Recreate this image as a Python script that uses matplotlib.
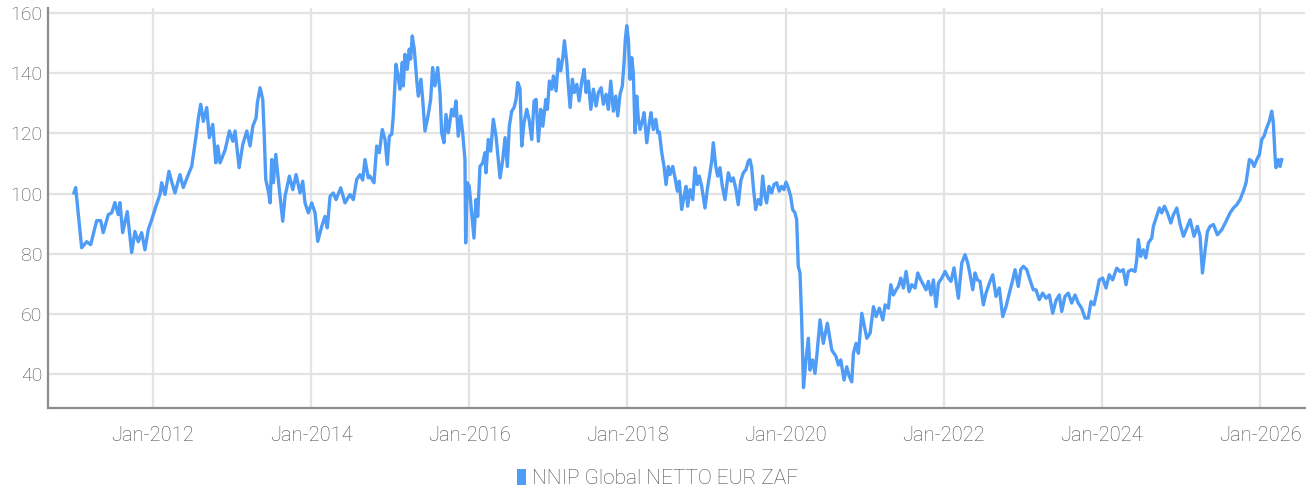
import matplotlib
matplotlib.use("Agg")
import matplotlib.pyplot as plt
import matplotlib.dates as mdates
from matplotlib.patches import Patch
from datetime import datetime

plt.rcParams['font.family'] = ['Roboto', 'DejaVu Sans']
plt.rcParams['font.weight'] = 'light'

series_name = 'NNIP Global NETTO EUR ZAF'

# time as decimal years
t_year = [
    2011.001, 2011.022, 2011.098, 2011.162, 2011.212, 2011.288, 2011.339, 2011.371, 2011.435, 2011.478,
    2011.519, 2011.561, 2011.583, 2011.617, 2011.675, 2011.731, 2011.772, 2011.814, 2011.857, 2011.899,
    2011.941, 2011.984, 2012.038, 2012.089, 2012.110, 2012.152, 2012.202, 2012.236, 2012.278, 2012.341,
    2012.383, 2012.446, 2012.489, 2012.544, 2012.573, 2012.603, 2012.636, 2012.679, 2012.712, 2012.755,
    2012.793, 2012.818, 2012.847, 2012.911, 2012.965, 2013.008, 2013.037, 2013.088, 2013.134, 2013.185,
    2013.227, 2013.261, 2013.303, 2013.319, 2013.353, 2013.387, 2013.404, 2013.425, 2013.458, 2013.480,
    2013.501, 2013.521, 2013.552, 2013.597, 2013.640, 2013.669, 2013.724, 2013.767, 2013.809, 2013.859,
    2013.893, 2013.922, 2013.964, 2014.007, 2014.049, 2014.083, 2014.134, 2014.175, 2014.204, 2014.239,
    2014.280, 2014.314, 2014.374, 2014.428, 2014.491, 2014.533, 2014.576, 2014.618, 2014.652, 2014.681,
    2014.723, 2014.744, 2014.795, 2014.829, 2014.862, 2014.900, 2014.934, 2014.963, 2014.989, 2015.019,
    2015.039, 2015.073, 2015.102, 2015.124, 2015.153, 2015.166, 2015.187, 2015.216, 2015.241, 2015.259,
    2015.279, 2015.305, 2015.335, 2015.355, 2015.389, 2015.411, 2015.440, 2015.482, 2015.512, 2015.537,
    2015.566, 2015.601, 2015.630, 2015.651, 2015.680, 2015.706, 2015.735, 2015.778, 2015.807, 2015.832,
    2015.861, 2015.892, 2015.917, 2015.946, 2015.955, 2015.975, 2016.000, 2016.031, 2016.060, 2016.085,
    2016.107, 2016.136, 2016.170, 2016.199, 2016.211, 2016.241, 2016.271, 2016.304, 2016.338, 2016.367,
    2016.389, 2016.423, 2016.452, 2016.481, 2016.506, 2016.536, 2016.566, 2016.591, 2016.612, 2016.641,
    2016.663, 2016.692, 2016.726, 2016.755, 2016.789, 2016.819, 2016.844, 2016.873, 2016.903, 2016.929,
    2016.967, 2016.987, 2017.012, 2017.042, 2017.063, 2017.097, 2017.126, 2017.156, 2017.181, 2017.202,
    2017.232, 2017.252, 2017.274, 2017.303, 2017.328, 2017.359, 2017.388, 2017.422, 2017.451, 2017.476,
    2017.505, 2017.536, 2017.569, 2017.603, 2017.632, 2017.666, 2017.695, 2017.729, 2017.758, 2017.789,
    2017.821, 2017.852, 2017.877, 2017.906, 2017.935, 2017.957, 2017.973, 2017.991, 2018.011, 2018.033,
    2018.054, 2018.074, 2018.096, 2018.117, 2018.138, 2018.159, 2018.193, 2018.210, 2018.244, 2018.277,
    2018.298, 2018.327, 2018.358, 2018.383, 2018.403, 2018.434, 2018.463, 2018.488, 2018.517, 2018.538,
    2018.573, 2018.602, 2018.631, 2018.656, 2018.686, 2018.716, 2018.741, 2018.762, 2018.791, 2018.826,
    2018.855, 2018.884, 2018.909, 2018.939, 2018.981, 2019.010, 2019.044, 2019.066, 2019.086, 2019.117,
    2019.142, 2019.171, 2019.200, 2019.234, 2019.276, 2019.310, 2019.339, 2019.369, 2019.402, 2019.433,
    2019.466, 2019.500, 2019.529, 2019.550, 2019.572, 2019.592, 2019.622, 2019.655, 2019.686, 2019.711,
    2019.740, 2019.761, 2019.791, 2019.825, 2019.854, 2019.888, 2019.921, 2019.951, 2019.980, 2020.006,
    2020.035, 2020.065, 2020.090, 2020.119, 2020.141, 2020.161, 2020.183, 2020.204, 2020.217, 2020.227,
    2020.258, 2020.288, 2020.309, 2020.343, 2020.372, 2020.394, 2020.436, 2020.477, 2020.528, 2020.584,
    2020.638, 2020.667, 2020.697, 2020.739, 2020.773, 2020.806, 2020.836, 2020.857, 2020.891, 2020.920,
    2020.963, 2020.996, 2021.026, 2021.068, 2021.110, 2021.144, 2021.185, 2021.229, 2021.258, 2021.299,
    2021.330, 2021.363, 2021.397, 2021.426, 2021.456, 2021.489, 2021.523, 2021.561, 2021.595, 2021.637,
    2021.671, 2021.709, 2021.742, 2021.776, 2021.805, 2021.839, 2021.869, 2021.903, 2021.932, 2021.975,
    2022.017, 2022.058, 2022.092, 2022.130, 2022.164, 2022.185, 2022.228, 2022.270, 2022.304, 2022.333,
    2022.367, 2022.396, 2022.425, 2022.459, 2022.501, 2022.535, 2022.577, 2022.620, 2022.661, 2022.703,
    2022.746, 2022.788, 2022.830, 2022.873, 2022.902, 2022.943, 2022.974, 2023.007, 2023.050, 2023.091,
    2023.133, 2023.167, 2023.209, 2023.252, 2023.294, 2023.336, 2023.379, 2023.421, 2023.462, 2023.493,
    2023.534, 2023.576, 2023.619, 2023.661, 2023.702, 2023.745, 2023.787, 2023.829, 2023.863, 2023.901,
    2023.935, 2023.968, 2024.011, 2024.053, 2024.094, 2024.137, 2024.188, 2024.230, 2024.271, 2024.306,
    2024.335, 2024.378, 2024.419, 2024.441, 2024.461, 2024.491, 2024.524, 2024.555, 2024.588, 2024.631,
    2024.651, 2024.685, 2024.727, 2024.757, 2024.790, 2024.828, 2024.871, 2024.904, 2024.947, 2024.989,
    2025.031, 2025.073, 2025.115, 2025.165, 2025.207, 2025.241, 2025.271, 2025.305, 2025.334, 2025.368,
    2025.410, 2025.460, 2025.516, 2025.570, 2025.621, 2025.663, 2025.706, 2025.747, 2025.789, 2025.823,
    2025.865, 2025.895, 2025.924, 2025.959, 2025.992, 2026.022, 2026.051, 2026.085, 2026.118, 2026.148,
    2026.168, 2026.190, 2026.202, 2026.232, 2026.253, 2026.274,
]

values = [
    100.2, 102.0, 82.0, 84.0, 83.0, 91.0, 91.0, 87.0, 93.0, 93.6,
    97.0, 93.0, 97.0, 87.0, 94.0, 80.4, 87.4, 84.0, 87.0, 81.3,
    88.0, 91.3, 95.8, 99.7, 103.6, 99.7, 107.4, 104.0, 100.2, 106.3,
    102.0, 106.3, 109.0, 119.0, 125.0, 129.7, 124.0, 128.6, 118.6, 123.0,
    110.2, 115.8, 110.2, 114.5, 120.8, 117.4, 120.8, 108.6, 116.3, 120.8,
    115.8, 122.4, 125.2, 130.2, 135.2, 131.3, 120.8, 104.7, 100.8, 96.9,
    111.3, 103.6, 113.0, 101.3, 90.8, 99.1, 105.8, 101.3, 106.3, 100.2,
    104.1, 96.9, 93.6, 96.9, 93.6, 84.1, 89.1, 92.4, 88.6, 99.1,
    100.2, 98.0, 101.9, 96.9, 99.7, 98.0, 104.7, 106.3, 104.5, 111.3,
    105.2, 105.8, 103.6, 115.8, 113.6, 121.3, 118.0, 109.7, 119.1, 119.7,
    125.8, 143.0, 138.6, 134.7, 143.6, 135.8, 146.3, 141.3, 148.0, 144.7,
    152.4, 148.0, 138.0, 132.4, 138.0, 131.3, 120.8, 126.3, 131.3, 141.9,
    135.8, 141.9, 133.6, 120.2, 116.9, 126.3, 120.2, 128.0, 125.8, 130.8,
    119.1, 125.8, 120.2, 111.3, 83.6, 103.6, 102.4, 93.6, 85.2, 98.0,
    92.4, 109.0, 110.2, 113.6, 106.9, 118.0, 114.1, 124.7, 119.1, 111.3,
    105.2, 111.3, 118.6, 109.0, 122.4, 127.4, 128.6, 131.3, 136.9, 135.0,
    115.8, 123.6, 128.0, 124.7, 118.0, 130.8, 131.3, 117.4, 128.0, 122.4,
    131.3, 128.0, 137.4, 134.7, 139.1, 134.1, 144.7, 140.8, 145.2, 150.8,
    143.6, 135.8, 128.6, 138.0, 133.6, 136.3, 130.8, 137.4, 141.3, 133.6,
    137.4, 128.0, 134.7, 129.1, 133.6, 135.2, 129.7, 133.0, 128.0, 137.4,
    127.4, 132.4, 125.8, 133.0, 135.8, 143.6, 151.3, 155.8, 151.3, 138.0,
    145.2, 140.2, 120.2, 132.4, 124.7, 121.3, 124.7, 126.9, 116.9, 123.6,
    126.9, 121.3, 124.7, 120.2, 120.5, 113.6, 109.0, 103.0, 109.0, 106.3,
    109.0, 105.2, 100.8, 104.1, 94.7, 99.1, 102.4, 95.8, 101.3, 98.0,
    108.6, 103.0, 105.8, 102.4, 95.2, 101.3, 106.9, 110.8, 116.9, 109.0,
    105.8, 108.6, 102.4, 98.0, 106.9, 104.1, 105.2, 101.9, 96.3, 104.1,
    106.9, 108.0, 110.8, 111.3, 108.6, 102.4, 94.7, 98.0, 96.3, 105.8,
    99.1, 96.9, 102.4, 100.2, 103.0, 103.6, 100.8, 102.4, 101.3, 103.8,
    101.9, 99.1, 94.7, 93.6, 91.3, 75.8, 73.6, 58.0, 44.7, 35.5,
    44.7, 51.9, 41.3, 44.7, 40.2, 45.8, 58.0, 50.2, 56.9, 48.0,
    45.8, 43.0, 44.7, 38.0, 42.4, 39.1, 37.4, 46.9, 50.2, 46.9,
    60.2, 55.8, 51.9, 53.6, 62.4, 59.1, 61.9, 58.0, 63.0, 61.9,
    69.7, 66.3, 68.0, 69.1, 71.9, 68.6, 74.1, 67.4, 69.7, 68.6,
    73.6, 71.3, 69.7, 68.0, 70.8, 66.3, 71.3, 62.4, 70.2, 71.9,
    74.1, 71.9, 70.8, 75.3, 69.1, 65.2, 76.9, 79.7, 76.9, 73.0,
    68.0, 73.6, 71.3, 70.8, 63.0, 66.9, 70.2, 73.0, 65.8, 68.6,
    59.1, 62.4, 66.9, 71.3, 74.7, 69.1, 74.7, 75.8, 74.7, 71.3,
    68.0, 68.0, 64.7, 66.9, 65.2, 66.3, 60.2, 64.5, 66.3, 60.8,
    65.8, 66.9, 63.6, 66.3, 63.6, 61.9, 58.6, 58.6, 64.1, 63.0,
    66.9, 71.3, 71.9, 68.6, 73.0, 71.3, 75.2, 74.1, 74.7, 69.7,
    74.1, 74.7, 74.1, 78.0, 84.7, 79.1, 81.3, 78.6, 83.6, 85.2,
    89.1, 91.9, 95.2, 93.6, 95.8, 93.6, 90.2, 93.0, 95.2, 89.7,
    85.8, 88.6, 91.3, 85.8, 89.1, 85.8, 73.6, 81.3, 87.4, 89.1,
    89.7, 86.3, 88.0, 90.8, 93.6, 95.2, 96.3, 98.0, 100.8, 103.6,
    111.3, 110.8, 109.0, 111.3, 113.0, 118.0, 119.1, 121.9, 124.1, 127.4,
    123.6, 112.4, 108.6, 111.3, 109.0, 111.3,
]

y_ticks = [40, 60, 80, 100, 120, 140, 160]
x_tick_years = [2012, 2014, 2016, 2018, 2020, 2022, 2024, 2026]


def to_date(t):
    y = int(t)
    start, end = datetime(y, 1, 1), datetime(y + 1, 1, 1)
    return start + (end - start) * (t - y)


dates = [to_date(t) for t in t_year]

line_color = '#4f9cf7'
text_color = '#4a4a4a'

fig = plt.figure(figsize=(13.15, 4.9), dpi=100)
ax = fig.add_axes([0.0365, 0.1673, 0.9559, 0.8164])

ax.plot(dates, values, color=line_color, linewidth=2.4, solid_joinstyle='round')

ax.set_ylim(28.7, 161.7)
ax.set_xlim(to_date(2010.672), to_date(2026.569))
ax.set_yticks(y_ticks)
ax.set_xticks([datetime(y, 1, 1) for y in x_tick_years])
ax.xaxis.set_major_formatter(mdates.DateFormatter('%b-%Y'))

ax.grid(True, color='#e3e3e3', linewidth=1.6)
ax.set_axisbelow(True)
for s in ['top', 'right']:
    ax.spines[s].set_visible(False)
for s in ['left', 'bottom']:
    ax.spines[s].set_color('#8c8c8c')
    ax.spines[s].set_linewidth(1.6)
ax.tick_params(axis='both', length=0, colors=text_color)
ax.tick_params(axis='x', pad=13, labelsize=14.5)
ax.tick_params(axis='y', pad=4, labelsize=14)

handle = Patch(facecolor=line_color, edgecolor='none')
fig.legend([handle], [series_name], loc='lower center', bbox_to_anchor=(0.5, -0.035),
           frameon=False, fontsize=15, labelcolor=text_color,
           handlelength=0.45, handleheight=0.8, handletextpad=0.3)

plt.savefig('out.png', dpi=100)
